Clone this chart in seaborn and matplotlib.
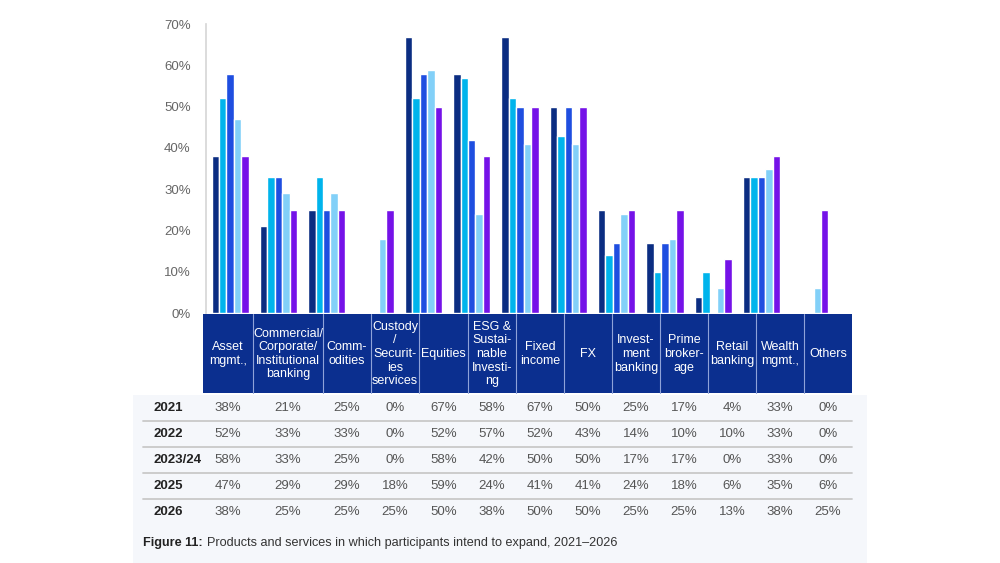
import matplotlib
matplotlib.use("Agg")
import matplotlib.pyplot as plt
import seaborn as sns
import pandas as pd
from matplotlib.patches import Rectangle

# Data
categories = ["Asset\nmgmt.,", "Commercial/\nCorporate/\nInstitutional\nbanking", "Comm-\nodities",
              "Custody\n/\nSecurit-\nies\nservices", "Equities", "ESG &\nSustai-\nnable\nInvesti-\nng",
              "Fixed\nincome", "FX", "Invest-\nment\nbanking", "Prime\nbroker-\nage", "Retail\nbanking",
              "Wealth\nmgmt.,", "Others"]
years = ["2021", "2022", "2023/24", "2025", "2026"]
v2021 = [38, 21, 25, 0, 67, 58, 67, 50, 25, 17, 4, 33, 0]
v2022 = [52, 33, 33, 0, 52, 57, 52, 43, 14, 10, 10, 33, 0]
v2023 = [58, 33, 25, 0, 58, 42, 50, 50, 17, 17, 0, 33, 0]
v2025 = [47, 29, 29, 18, 59, 24, 41, 41, 24, 18, 6, 35, 6]
v2026 = [38, 25, 25, 25, 50, 38, 50, 50, 25, 25, 13, 38, 25]
series = [v2021, v2022, v2023, v2025, v2026]
colors = ["#0b2d82", "#00b4ec", "#1f4ee0", "#82d0f8", "#7512e8"]

caption_bold = "Figure 11:"
caption_text = "Products and services in which participants intend to expand, 2021\u20132026"

# table layout (pixels)
col_edges = [203, 253, 323, 371, 419, 468, 516, 564, 612, 660, 708, 756, 804, 852]
row_y = [408, 434, 460, 486, 512]

rows = []
for yr, vals in zip(years, series):
    for i, v in enumerate(vals):
        rows.append({"cat": i, "year": yr, "value": v})
df = pd.DataFrame(rows)

sns.set_theme(style="white")
plt.rcParams["font.family"] = ["Liberation Sans", "DejaVu Sans"]

fig = plt.figure(figsize=(10, 5.63), dpi=100)

# background / table layer in pixel coordinates
bg = fig.add_axes([0, 0, 1, 1])
bg.set_xlim(0, 1000)
bg.set_ylim(563, 0)
bg.axis("off")
bg.add_patch(Rectangle((133, 395), 734, 168, color="#f5f7fb", lw=0))

# header
bg.add_patch(Rectangle((col_edges[0], 314), col_edges[-1] - col_edges[0], 79, color="#0b2f8f", lw=0))
for x in col_edges[1:-1]:
    bg.plot([x, x], [314, 393], color="#8fa2d8", lw=0.8)
for i, lab in enumerate(categories):
    cx = (col_edges[i] + col_edges[i + 1]) / 2
    bg.text(cx, 354, lab, ha="center", va="center", multialignment="center",
            color="white", fontsize=9, linespacing=1.18)

# rows
for r, (yr, vals) in enumerate(zip(years, series)):
    bg.text(153, row_y[r], yr, ha="left", va="center", fontsize=9.5,
            fontweight="bold", color="#222222")
    for i, v in enumerate(vals):
        cx = (col_edges[i] + col_edges[i + 1]) / 2
        bg.text(cx, row_y[r], f"{v}%", ha="center", va="center", fontsize=9.5, color="#555555")
    if r < len(years) - 1:
        ysep = (row_y[r] + row_y[r + 1]) / 2
        bg.plot([143, col_edges[-1]], [ysep, ysep], color="#c9c9c9", lw=1.3)

# caption
t = bg.text(143, 543, caption_bold, ha="left", va="center", fontsize=9.1,
            fontweight="bold", color="#222222")
fig.canvas.draw()
bb = t.get_window_extent()
x_next = bb.x1 + 4
bg.text(x_next, 543, caption_text, ha="left", va="center", fontsize=9.1, color="#333333")

# bar chart
ax = fig.add_axes([0.206, 0.444, 0.628, 0.513])
ax.set_facecolor("none")
sns.barplot(data=df, x="cat", y="value", hue="year", hue_order=years,
            palette=colors, width=0.77, saturation=1, legend=False, ax=ax)
ax.set_xlim(-0.5, 12.5)
ax.set_ylim(0, 70)
ax.set_yticks(range(0, 71, 10))
ax.set_yticklabels([f"{v}%" for v in range(0, 71, 10)], fontsize=9.5, color="#666666")
ax.set_xticks([])
ax.set_xlabel("")
ax.set_ylabel("")
ax.tick_params(axis="y", length=0, pad=11)
for s in ["top", "right", "bottom"]:
    ax.spines[s].set_visible(False)
ax.spines["left"].set_color("#d5d5d5")
ax.spines["left"].set_linewidth(1.2)

fig.savefig("out.png", dpi=100)
